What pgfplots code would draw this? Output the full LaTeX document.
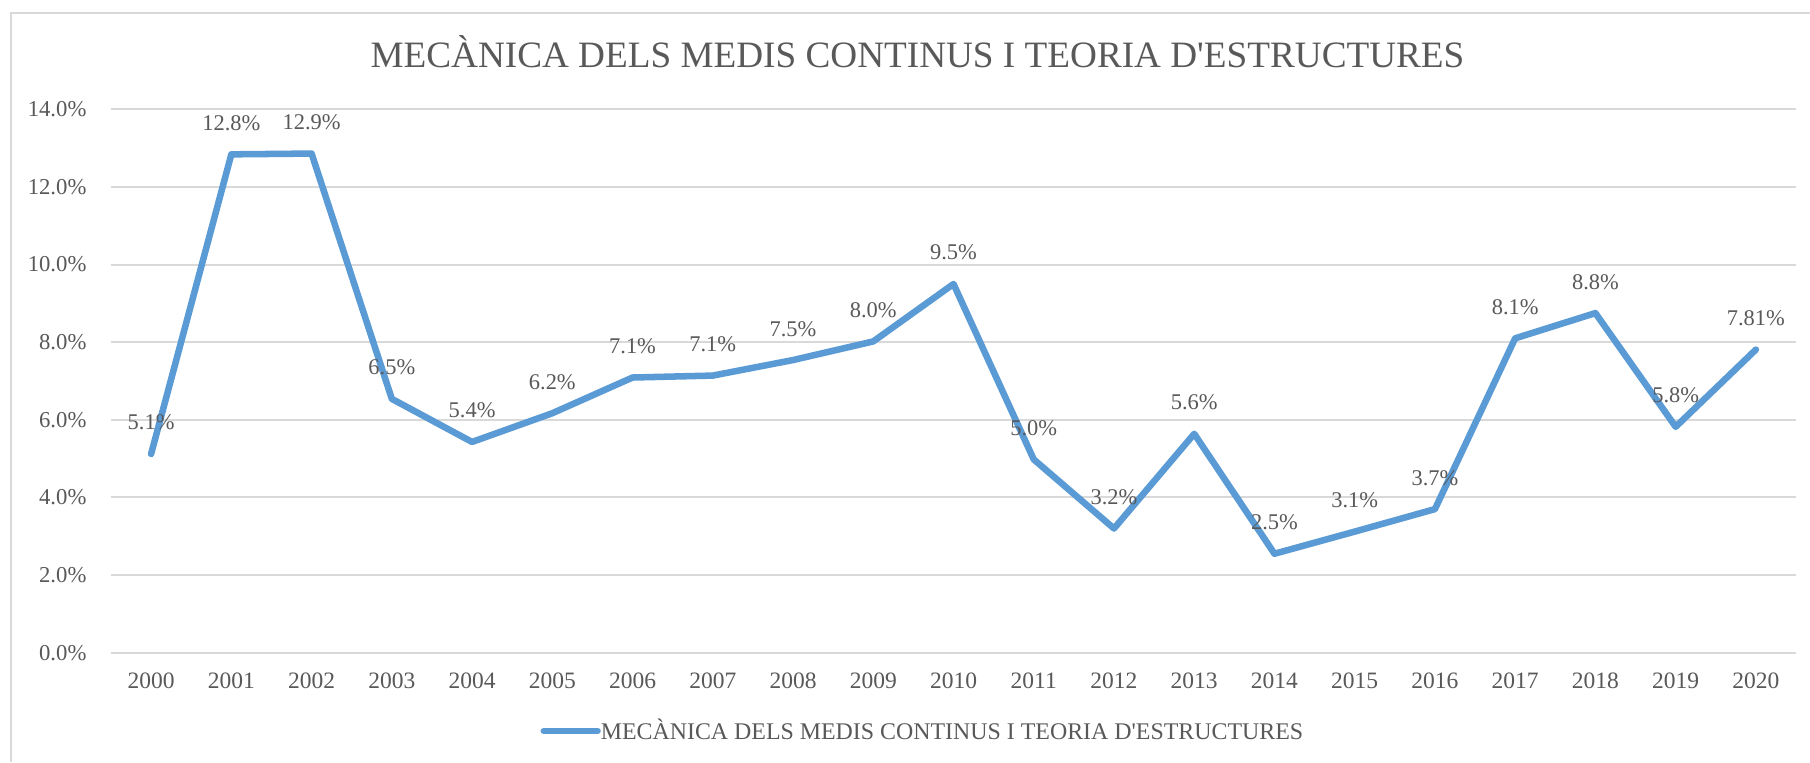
\documentclass[border=0pt]{standalone}
\usepackage{fontspec}
\setmainfont{Liberation Serif}[Ligatures=TeXOff]
\usepackage{pgfplots}
\pgfplotsset{compat=1.18}
\definecolor{linecol}{HTML}{5B9BD5}
\definecolor{txtgray}{HTML}{595959}
\definecolor{gridgray}{HTML}{D9D9D9}
\begin{document}
\begin{tikzpicture}
\path[use as bounding box, fill=white] (0,0) rectangle (693.23pt,291.85pt);
\draw[gridgray, line width=0.77pt] (4.21pt,0pt) -- (4.21pt,286.87pt) -- (693.23pt,286.87pt);
\node[anchor=base, font=\fontsize{14.25}{17}\selectfont, text=txtgray, inner sep=0pt] at (351.4pt,265.9pt) {MECÀNICA DELS MEDIS CONTINUS I TEORIA D'ESTRUCTURES};
\begin{axis}[
  at={(42.51pt,41.86pt)}, anchor=south west,
  scale only axis, width=645.36pt, height=208.12pt,
  xmin=1999.5, xmax=2020.5, ymin=0, ymax=14,
  xtick={2000,2001,...,2020}, ytick={0,2,...,14},
  axis line style={draw=none}, major tick style={draw=none},
  ymajorgrids, grid style={gridgray, line width=0.75pt},
  /pgf/number format/assume math mode=true,
  x tick label style={/pgf/number format/1000 sep={}, anchor=north, inner sep=0pt, yshift=-7.4pt, font=\fontsize{9}{10}\selectfont, text=txtgray},
  yticklabel={\pgfmathprintnumber[fixed,fixed zerofill,precision=1]{\tick}\%},
  y tick label style={anchor=east, inner sep=0pt, xshift=-9.2pt, font=\fontsize{8.7}{10}\selectfont, text=txtgray},
  clip=false,
  legend style={at={(axis description cs:0.2546,-0.1441)}, anchor=west, draw=none, fill=none, inner sep=0pt, nodes={inner sep=0pt}, font=\fontsize{9.15}{10}\selectfont, text=txtgray},
  legend image code/.code={\draw[#1, line cap=round] (0pt,0pt) -- (20.6pt,0pt);},
]
\addplot[linecol, line width=2.5pt, line join=round, line cap=round,
  point meta=explicit symbolic,
  nodes near coords={\pgfplotspointmeta\%},
  every node near coord/.append style={anchor=center, yshift=12pt, font=\fontsize{8.6}{10}\selectfont, text=txtgray}
] table[x=x, y=y, meta=label] {
x y label
2000 5.12 5.1
2001 12.84 12.8
2002 12.86 12.9
2003 6.54 6.5
2004 5.43 5.4
2005 6.17 6.2
2006 7.09 7.1
2007 7.14 7.1
2008 7.54 7.5
2009 8.02 8.0
2010 9.50 9.5
2011 4.98 5.0
2012 3.20 3.2
2013 5.64 5.6
2014 2.55 2.5
2015 3.12 3.1
2016 3.70 3.7
2017 8.10 8.1
2018 8.75 8.8
2019 5.82 5.8
2020 7.81 7.81
};
\addlegendentry{MECÀNICA DELS MEDIS CONTINUS I TEORIA D'ESTRUCTURES}
\end{axis}
\end{tikzpicture}
\end{document}
